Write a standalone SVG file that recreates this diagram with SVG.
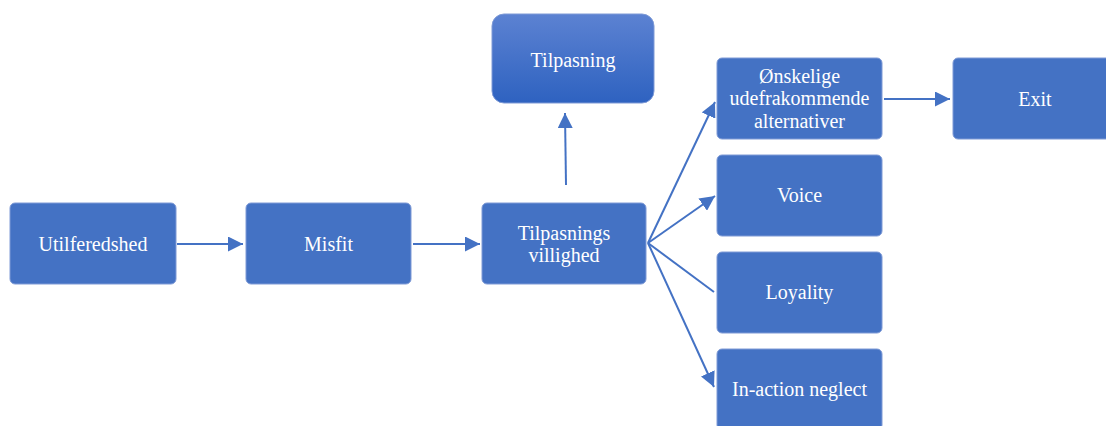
<svg xmlns="http://www.w3.org/2000/svg" width="1106" height="426" viewBox="0 0 1106 426">
<defs>
<linearGradient id="g1" x1="0" y1="0" x2="0" y2="1">
<stop offset="0" stop-color="#5c82d2"/>
<stop offset="1" stop-color="#2e62c0"/>
</linearGradient>
<marker id="ah" viewBox="0 0 10 10" refX="10" refY="5" markerWidth="7.5" markerHeight="7.5" markerUnits="userSpaceOnUse" orient="auto">
<path d="M0,0 L10,5 L0,10 Z" fill="#4472c4"/>
</marker>
<marker id="ah2" viewBox="0 0 10 10" refX="10" refY="5" markerWidth="15" markerHeight="15" markerUnits="userSpaceOnUse" orient="auto">
<path d="M0,0 L10,5 L0,10 Z" fill="#4472c4"/>
</marker>
</defs>
<style>
.box{fill:#4472c4;stroke:#7e9ad6;stroke-width:1}
.t{font-family:"Liberation Serif","Times New Roman",serif;font-size:20px;fill:#ffffff;text-anchor:middle}
.c{stroke:#4472c4;stroke-width:2;fill:none}
</style>
<g id="connectors">
<line class="c" x1="177" y1="244" x2="243" y2="244" marker-end="url(#ah2)"/>
<line class="c" x1="413" y1="244" x2="480" y2="244" marker-end="url(#ah2)"/>
<line class="c" x1="884" y1="99" x2="950" y2="99" marker-end="url(#ah2)"/>
<line class="c" x1="566" y1="185" x2="565" y2="113" marker-end="url(#ah2)"/>
<line class="c" x1="648" y1="243" x2="715" y2="102" marker-end="url(#ah2)"/>
<line class="c" x1="648" y1="243" x2="715" y2="196" marker-end="url(#ah2)"/>
<line class="c" x1="648" y1="243" x2="714" y2="292"/>
<line class="c" x1="648" y1="243" x2="714" y2="387" marker-end="url(#ah2)"/>
</g>
<g id="n-utilferedshed">
<rect class="box" x="10" y="203" width="166" height="81" rx="5"/>
<text class="t" x="93" y="251">Utilferedshed</text>
</g>
<g id="n-misfit">
<rect class="box" x="246" y="203" width="165" height="81" rx="5"/>
<text class="t" x="328.5" y="251">Misfit</text>
</g>
<g id="n-villighed">
<rect class="box" x="482" y="203" width="164" height="81" rx="5"/>
<text class="t" x="564" y="240">Tilpasnings</text>
<text class="t" x="564" y="262">villighed</text>
</g>
<g id="n-tilpasning">
<rect x="492" y="14" width="162" height="89" rx="12" fill="url(#g1)" stroke="#7e9ad6" stroke-width="1"/>
<text class="t" x="573" y="67">Tilpasning</text>
</g>
<g id="n-onskelige">
<rect class="box" x="717" y="58" width="165" height="81" rx="5"/>
<text class="t" x="799.5" y="83">Ønskelige</text>
<text class="t" x="799.5" y="105">udefrakommende</text>
<text class="t" x="799.5" y="128">alternativer</text>
</g>
<g id="n-exit">
<rect class="box" x="953" y="58" width="165" height="81" rx="5"/>
<text class="t" x="1035" y="106">Exit</text>
</g>
<g id="n-voice">
<rect class="box" x="717" y="155" width="165" height="81" rx="5"/>
<text class="t" x="799.5" y="202">Voice</text>
</g>
<g id="n-loyality">
<rect class="box" x="717" y="252" width="165" height="81" rx="5"/>
<text class="t" x="799.5" y="299">Loyality</text>
</g>
<g id="n-inaction">
<rect class="box" x="717" y="349" width="165" height="81" rx="5"/>
<text class="t" x="799.5" y="396">In-action neglect</text>
</g>
</svg>
